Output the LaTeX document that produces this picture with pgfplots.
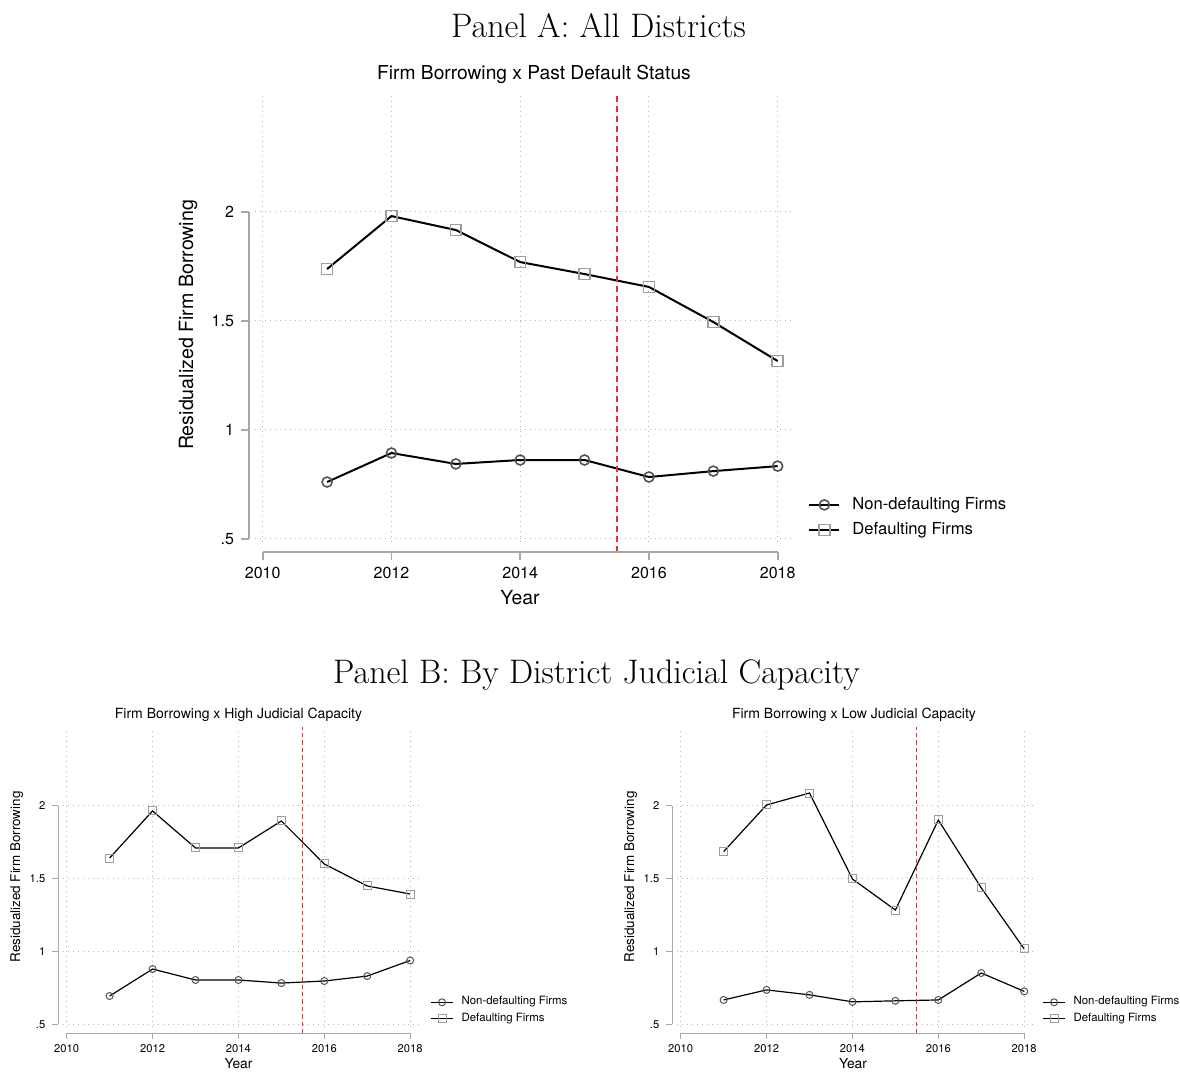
\documentclass[border=0pt]{standalone}
\usepackage{fontspec}
\usepackage{pgfplots}
\pgfplotsset{compat=1.18}
\newfontfamily\hv{TeX Gyre Heros}
\definecolor{gridc}{gray}{0.72}
\definecolor{axc}{gray}{0.66}
\definecolor{refred}{RGB}{232,48,42}
\definecolor{circc}{gray}{0.33}
\definecolor{sqc}{gray}{0.62}

\pgfplotstableread{
year nondef def
2011 0.760 1.737
2012 0.893 1.980
2013 0.843 1.916
2014 0.861 1.769
2015 0.861 1.714
2016 0.783 1.655
2017 0.810 1.494
2018 0.833 1.315
}\panelA
\pgfplotstableread{
year nondef def
2011 0.694 1.641
2012 0.879 1.964
2013 0.804 1.710
2014 0.804 1.710
2015 0.783 1.895
2016 0.797 1.600
2017 0.831 1.449
2018 0.938 1.394
}\panelBhigh
\pgfplotstableread{
year nondef def
2011 0.667 1.685
2012 0.736 2.005
2013 0.702 2.087
2014 0.654 1.497
2015 0.661 1.284
2016 0.667 1.902
2017 0.852 1.436
2018 0.726 1.017
}\panelBlow

\pgfplotsset{
  stata/.style={
    scale only axis, clip=false,
    axis x line*=bottom, axis y line*=left,
    axis line style={draw=none},
    xtick={2010,2012,2014,2016,2018},
    ytick={0.5,1,1.5,2}, yticklabels={.5,1,1.5,2},
    /pgf/number format/1000 sep={},
    /pgf/number format/assume math mode=true,
    grid=major,
    grid style={gridc, line width=0.5pt, dash pattern=on 0.5pt off 2pt},
    tick align=outside,
    tick style={axc},
    legend cell align=left,
  },
}

\begin{document}
\begin{tikzpicture}
\path[use as bounding box] (0,0) rectangle (590pt,536pt);

% ---------------- Panel A ----------------
\begin{axis}[stata,
  at={(127.5pt,265pt)}, anchor=south west,
  width=268pt, height=224.65pt,
  xmin=2009.88, xmax=2018.207, ymin=0.4849, ymax=2.546,
  axis x line shift=4.85pt, axis y line shift=3pt,
  major tick length=4pt,
  tick style={axc, line width=0.9pt},
  ticklabel style={font=\hv\fontsize{8}{9.6}\selectfont},
  legend image code/.code={\draw[mark repeat=2,mark phase=2,#1] plot coordinates {(0pt,0pt)(7.5pt,0pt)(15pt,0pt)}; \path (21pt,0pt);},
  legend style={at={(rel axis cs:1.0317,0.0546)}, anchor=west, draw=none, fill=none,
    font=\hv\fontsize{8.3}{10}\selectfont, row sep=5pt, inner sep=0pt,
    nodes={inner sep=0pt}},
]
\addplot[black, line width=1pt, mark=o, mark size=2.5pt,
  mark options={draw=circc, line width=0.8pt, solid}] table[x=year, y=nondef] {\panelA};
\addplot[black, line width=1pt, mark=square, mark size=2.7pt,
  mark options={draw=sqc, line width=0.8pt, solid}] table[x=year, y=def] {\panelA};
\addplot[refred, line width=0.8pt, dash pattern=on 3pt off 2pt, forget plot]
  coordinates {(2015.5,0.4404) (2015.5,2.546)};
\draw[axc, line width=0.9pt] ([yshift=-4.85pt]axis cs:2010,0.4849) -- ([yshift=-4.85pt]axis cs:2018,0.4849);
\draw[axc, line width=0.9pt] ([xshift=-3pt]axis cs:2009.88,0.5) -- ([xshift=-3pt]axis cs:2009.88,2);
\legend{Non-defaulting Firms, Defaulting Firms}
\end{axis}

% ---------------- Panel B left ----------------
\begin{axis}[stata,
  at={(31.65pt,22.35pt)}, anchor=south west,
  width=177.85pt, height=150pt,
  xmin=2009.921, xmax=2018.205, ymin=0.4794, ymax=2.538,
  axis x line shift=3.1pt, axis y line shift=2.5pt,
  major tick length=3pt,
  tick style={axc, line width=0.6pt},
  ticklabel style={font=\hv\fontsize{5.6}{6.7}\selectfont},
  xticklabel style={yshift=1pt},
  legend image code/.code={\draw[mark repeat=2,mark phase=2,#1] plot coordinates {(0pt,0pt)(5.5pt,0pt)(11pt,0pt)}; \path (15pt,0pt);},
  legend style={at={(rel axis cs:1.031,0.056)}, anchor=west, draw=none, fill=none,
    font=\hv\fontsize{5.7}{7}\selectfont, row sep=2.5pt, inner sep=0pt,
    nodes={inner sep=0pt}},
]
\addplot[black, line width=0.6pt, mark=o, mark size=1.75pt,
  mark options={draw=circc, line width=0.5pt, solid}] table[x=year, y=nondef] {\panelBhigh};
\addplot[black, line width=0.6pt, mark=square, mark size=2pt,
  mark options={draw=sqc, line width=0.5pt, solid}] table[x=year, y=def] {\panelBhigh};
\addplot[refred, line width=0.6pt, dash pattern=on 2.2pt off 1.5pt, forget plot]
  coordinates {(2015.5,0.4369) (2015.5,2.538)};
\draw[axc, line width=0.6pt] ([yshift=-3.1pt]axis cs:2010,0.4794) -- ([yshift=-3.1pt]axis cs:2018,0.4794);
\draw[axc, line width=0.6pt] ([xshift=-2.5pt]axis cs:2009.921,0.5) -- ([xshift=-2.5pt]axis cs:2009.921,2);
\legend{Non-defaulting Firms, Defaulting Firms}
\end{axis}

% ---------------- Panel B right ----------------
\begin{axis}[stata,
  at={(338.65pt,22.35pt)}, anchor=south west,
  width=177.85pt, height=150pt,
  xmin=2009.921, xmax=2018.205, ymin=0.4794, ymax=2.538,
  axis x line shift=3.1pt, axis y line shift=2.5pt,
  major tick length=3pt,
  tick style={axc, line width=0.6pt},
  ticklabel style={font=\hv\fontsize{5.6}{6.7}\selectfont},
  xticklabel style={yshift=1pt},
  legend image code/.code={\draw[mark repeat=2,mark phase=2,#1] plot coordinates {(0pt,0pt)(5.5pt,0pt)(11pt,0pt)}; \path (15pt,0pt);},
  legend style={at={(rel axis cs:1.0254,0.056)}, anchor=west, draw=none, fill=none,
    font=\hv\fontsize{5.7}{7}\selectfont, row sep=2.5pt, inner sep=0pt,
    nodes={inner sep=0pt}},
]
\addplot[black, line width=0.6pt, mark=o, mark size=1.75pt,
  mark options={draw=circc, line width=0.5pt, solid}] table[x=year, y=nondef] {\panelBlow};
\addplot[black, line width=0.6pt, mark=square, mark size=2pt,
  mark options={draw=sqc, line width=0.5pt, solid}] table[x=year, y=def] {\panelBlow};
\addplot[refred, line width=0.6pt, dash pattern=on 2.2pt off 1.5pt, forget plot]
  coordinates {(2015.5,0.4369) (2015.5,2.538)};
\draw[axc, line width=0.6pt] ([yshift=-3.1pt]axis cs:2010,0.4794) -- ([yshift=-3.1pt]axis cs:2018,0.4794);
\draw[axc, line width=0.6pt] ([xshift=-2.5pt]axis cs:2009.921,0.5) -- ([xshift=-2.5pt]axis cs:2009.921,2);
\legend{Non-defaulting Firms, Defaulting Firms}
\end{axis}

% ---------------- Titles and labels ----------------
\node[anchor=base, inner sep=0pt, font=\fontsize{17}{20}\selectfont] at (299.25pt,517.25pt) {Panel A: All Districts};
\node[anchor=base, inner sep=0pt, font=\fontsize{17}{20}\selectfont] at (298.25pt,194pt) {Panel B: By District Judicial Capacity};

\node[anchor=base, inner sep=0pt, font=\hv\fontsize{9.6}{11}\selectfont] at (267pt,496pt) {Firm Borrowing x Past Default Status};
\node[anchor=base, inner sep=0pt, font=\hv\fontsize{9.7}{11}\selectfont] at (260pt,233.5pt) {Year};
\node[anchor=base, inner sep=0pt, rotate=90, font=\hv\fontsize{9.8}{11}\selectfont] at (96.5pt,373.5pt) {Residualized Firm Borrowing};

\node[anchor=base, inner sep=0pt, font=\hv\fontsize{7}{8}\selectfont] at (119.25pt,176.5pt) {Firm Borrowing x High Judicial Capacity};
\node[anchor=base, inner sep=0pt, font=\hv\fontsize{6.9}{8}\selectfont] at (119.25pt,1.5pt) {Year};
\node[anchor=base, inner sep=0pt, rotate=90, font=\hv\fontsize{6.7}{8}\selectfont] at (10pt,97.5pt) {Residualized Firm Borrowing};

\node[anchor=base, inner sep=0pt, font=\hv\fontsize{7}{8}\selectfont] at (427pt,176.5pt) {Firm Borrowing x Low Judicial Capacity};
\node[anchor=base, inner sep=0pt, font=\hv\fontsize{6.9}{8}\selectfont] at (426.5pt,1.5pt) {Year};
\node[anchor=base, inner sep=0pt, rotate=90, font=\hv\fontsize{6.7}{8}\selectfont] at (317pt,97.5pt) {Residualized Firm Borrowing};
\end{tikzpicture}
\end{document}
